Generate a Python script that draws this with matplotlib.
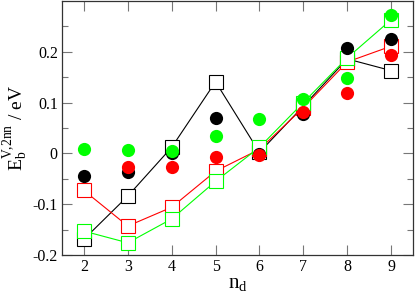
import matplotlib
matplotlib.use("Agg")
import matplotlib.pyplot as plt
import numpy as np

nd = [2, 3, 4, 5, 6, 7, 8, 9]
black_sq = [-0.169, -0.084, 0.012, 0.141, 0.002, 0.093, 0.186, 0.163]
red_sq = [-0.073, -0.143, -0.106, -0.035, 0.008, 0.090, 0.180, 0.211]
green_sq = [-0.153, -0.176, -0.129, -0.055, 0.012, 0.100, 0.188, 0.263]
black_c = [-0.045, -0.037, 0.000, 0.069, -0.002, 0.078, 0.207, 0.225]
red_c = [np.nan, -0.026, -0.026, -0.007, -0.003, 0.082, 0.119, 0.194]
green_c = [0.008, 0.007, 0.005, 0.035, 0.068, 0.107, 0.148, 0.273]

plt.rcParams['font.family'] = ['Liberation Serif', 'DejaVu Serif']
plt.rcParams['mathtext.fontset'] = 'custom'
plt.rcParams['mathtext.rm'] = 'Liberation Serif'
plt.rcParams['mathtext.it'] = 'Liberation Serif'

fig = plt.figure(figsize=(4.15, 2.92), dpi=100)
ax = fig.add_axes([62/415, 1-255/292, (413-62)/415, (255-1)/292])

sqkw = dict(marker='s', markersize=10, markerfacecolor='white', lw=0.8, markeredgewidth=0.8)
ax.plot(nd, black_sq, color='black', **sqkw, zorder=2)
ax.plot(nd, red_sq, color='#ff0000', **sqkw, zorder=2)
ax.plot(nd, green_sq, color='#00ff00', **sqkw, zorder=2)

ckw = dict(marker='o', markersize=9.5, linestyle='none', markeredgewidth=0)
ax.plot(nd, black_c, color='black', **ckw, zorder=3)
ax.plot(nd, red_c, color='#ff0000', **ckw, zorder=4)
ax.plot(nd, green_c, color='#00ff00', **ckw, zorder=5)

ax.set_xlim(1.5, 9.5)
ax.set_ylim(-0.2, 0.3)
ax.set_xticks(nd)
ax.set_yticks([-0.2, -0.1, 0, 0.1, 0.2])
ax.set_yticklabels(['-0.2', '-0.1', '0', '0.1', '0.2'])
ax.set_yticks(np.arange(-0.15, 0.3, 0.1), minor=True)
ax.tick_params(which='both', direction='in', top=True, right=True, color='#777777', labelsize=11.5)
ax.tick_params(which='major', length=7, width=0.8, pad=3)
ax.tick_params(which='minor', length=4, width=0.8)
for s in ax.spines.values():
    s.set_linewidth(0.9)
    s.set_color('#333333')

ax.set_xlabel(r'n$_\mathrm{d}$', fontsize=15, labelpad=0)
ax.xaxis.set_label_coords(0.5, -0.075, transform=ax.transAxes)
ax.xaxis.label.set_va('top')
ax.set_ylabel(r'E$_\mathrm{b}^\mathrm{V{,}2nn}$ / eV', fontsize=14, va='center')
ax.yaxis.set_label_coords(-0.132, 0.5)

fig.savefig('out.png', dpi=100)
